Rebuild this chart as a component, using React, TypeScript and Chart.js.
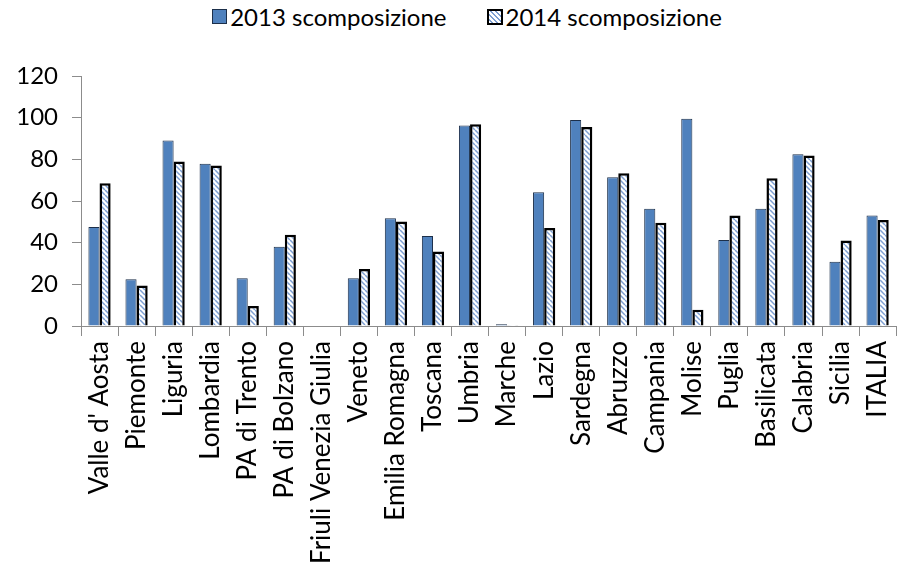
import React, { useEffect, useRef } from "react";
import { Chart, registerables } from "chart.js";

Chart.register(...registerables);

const categories = [
  "Valle d' Aosta", "Piemonte", "Liguria", "Lombardia", "PA di Trento", "PA di Bolzano",
  "Friuli Venezia Giulia", "Veneto", "Emilia Romagna", "Toscana", "Umbria", "Marche",
  "Lazio", "Sardegna", "Abruzzo", "Campania", "Molise", "Puglia", "Basilicata",
  "Calabria", "Sicilia", "ITALIA",
];
const values2013 = [47.5, 22.4, 89.1, 77.9, 22.9, 38, 0, 22.9, 51.7, 43.2, 96.3, 0.8, 64.2, 98.9, 71.4, 56.3, 99.5, 41.3, 56.3, 82.4, 30.9, 53.1];
const values2014 = [68.5, 19.4, 79, 77, 9.6, 43.8, 0, 27.4, 50.2, 35.8, 96.8, 0.1, 47, 95.5, 73.3, 49.6, 7.8, 53.1, 70.9, 81.8, 41.1, 50.9];
const yTicks = [0, 20, 40, 60, 80, 100, 120];
const seriesNames = ["2013 scomposizione", "2014 scomposizione"];

const FONT = "Lato, 'Open Sans', sans-serif";
const BLUE = "#4f81bd";
const HATCH = "#7d9fd3";

function makePattern(): CanvasPattern | string {
  const c = document.createElement("canvas");
  c.width = 5;
  c.height = 5;
  const ctx = c.getContext("2d");
  if (!ctx) return "#ffffff";
  ctx.fillStyle = "#ffffff";
  ctx.fillRect(0, 0, 5, 5);
  ctx.strokeStyle = HATCH;
  ctx.lineWidth = 1.5;
  for (let k = -5; k <= 10; k += 5) {
    ctx.beginPath();
    ctx.moveTo(k, 0);
    ctx.lineTo(k + 5, 5);
    ctx.stroke();
  }
  const p = ctx.createPattern(c, "repeat");
  return p || "#ffffff";
}

function LegendItem(props: { label: string; hatch: boolean }) {
  const box: React.CSSProperties = props.hatch
    ? {
        width: 12,
        height: 12,
        border: "2px solid #000",
        background: `repeating-linear-gradient(45deg, #fff 0px, #fff 2px, ${HATCH} 2px, ${HATCH} 3.5px)`,
        boxSizing: "content-box",
      }
    : { width: 13, height: 13, border: "1px solid #1c2f4a", background: BLUE };
  return (
    <div style={{ display: "flex", alignItems: "center" }}>
      <div style={box} />
      <span style={{ marginLeft: 3, fontFamily: FONT, fontSize: 24, color: "#000", whiteSpace: "nowrap" }}>
        {props.label}
      </span>
    </div>
  );
}

export default function App() {
  const ref = useRef<HTMLCanvasElement | null>(null);
  useEffect(() => {
    if (!ref.current) return;
    const pattern = makePattern();
    const chart = new Chart(ref.current, {
      type: "bar",
      data: {
        labels: categories,
        datasets: [
          {
            label: seriesNames[0],
            data: values2013,
            backgroundColor: BLUE,
            borderColor: "#1c2f4a",
            borderWidth: 1,
            categoryPercentage: 0.6,
            barPercentage: 1,
          },
          {
            label: seriesNames[1],
            data: values2014,
            backgroundColor: pattern as any,
            borderColor: "#000000",
            borderWidth: 2.5,
            categoryPercentage: 0.6,
            barPercentage: 1,
          },
        ],
      },
      options: {
        animation: false,
        responsive: true,
        maintainAspectRatio: false,
        layout: { padding: { top: 76, right: 8, left: 0, bottom: 0 } },
        plugins: {
          tooltip: { enabled: false },
          legend: { display: false },
        },
        scales: {
          x: {
            offset: true,
            afterFit: (axis: any) => {
              axis.height = 252;
            },
            grid: {
              display: true,
              offset: true,
              drawOnChartArea: false,
              color: "#8c8c8c",
              tickLength: 10,
            },
            border: { display: true, color: "#8c8c8c", width: 1 },
            ticks: {
              autoSkip: false,
              maxRotation: 90,
              minRotation: 90,
              color: "#000",
              font: { family: FONT, size: 26 },
              padding: 5,
            },
          },
          y: {
            min: 0,
            max: 120,
            afterFit: (axis: any) => {
              axis.width = 81;
            },
            afterBuildTicks: (axis: any) => {
              axis.ticks = yTicks.map((v) => ({ value: v }));
            },
            grid: {
              display: true,
              drawOnChartArea: false,
              color: "#8c8c8c",
              tickLength: 9,
            },
            border: { display: true, color: "#8c8c8c", width: 1 },
            ticks: {
              color: "#000",
              font: { family: FONT, size: 24 },
              padding: 14,
            },
          },
        },
      },
    });
    return () => chart.destroy();
  }, []);
  return (
    <div style={{ position: "absolute", left: 0, top: 0, width: 914, height: 578, background: "#fff" }}>
      <div
        style={{
          position: "absolute",
          top: 2,
          left: 0,
          width: 914,
          display: "flex",
          justifyContent: "center",
          gap: 40,
          paddingLeft: 20,
          boxSizing: "border-box",
        }}
      >
        <LegendItem label={seriesNames[0]} hatch={false} />
        <LegendItem label={seriesNames[1]} hatch={true} />
      </div>
      <div style={{ position: "absolute", left: 0, top: 0, width: 914, height: 578 }}>
        <canvas ref={ref} />
      </div>
    </div>
  );
}
